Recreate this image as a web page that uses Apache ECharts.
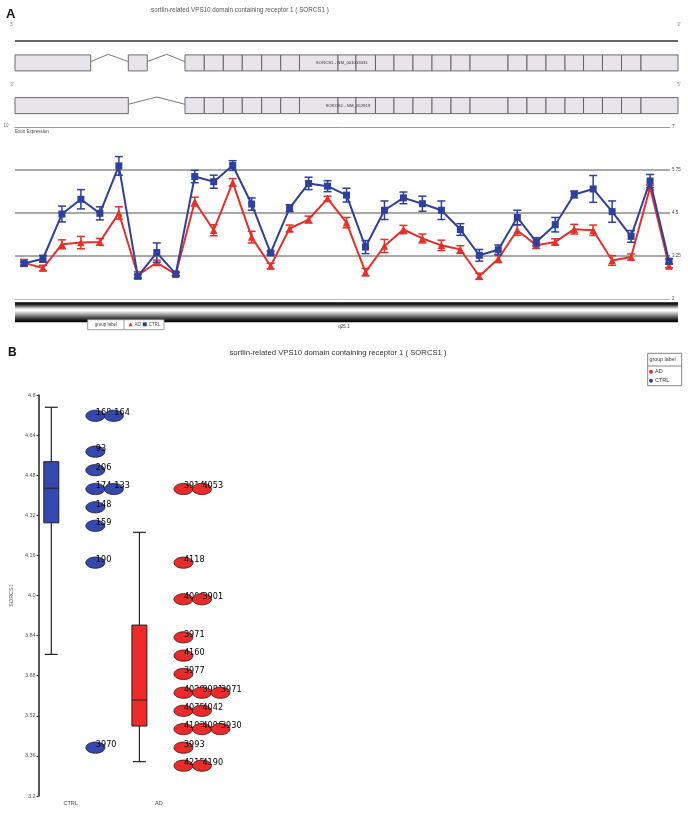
<!DOCTYPE html>
<html><head><meta charset="utf-8">
<script src="https://cdn.jsdelivr.net/npm/echarts@6/dist/echarts.min.js"></script>
<style>html,body{margin:0;padding:0;background:#fff}#c{width:688px;height:813px}</style>
</head><body><div id="c"></div>
<script>
// ================= DATA =================
// Panel A - exon expression (35 exons)
const exonNo = [1,2,3,4,5,6,7,8,9,10,11,12,13,14,15,16,17,18,19,20,21,22,23,24,25,26,27,28,29,30,31,32,33,34,35];
const ctrlMean = [3.03,3.17,4.47,4.90,4.49,5.87,2.66,3.35,2.73,5.56,5.41,5.88,4.76,3.34,4.64,5.36,5.28,5.02,3.51,4.58,4.94,4.77,4.58,4.02,3.27,3.43,4.37,3.66,4.16,5.04,5.20,4.54,3.82,5.43,3.10];
const ctrlErr  = [0.05,0.10,0.23,0.28,0.19,0.27,0.05,0.28,0.05,0.18,0.19,0.14,0.18,0.05,0.10,0.18,0.16,0.20,0.19,0.27,0.17,0.22,0.27,0.17,0.17,0.14,0.21,0.12,0.21,0.10,0.39,0.31,0.17,0.19,0.07];
const adMean   = [3.05,2.90,3.59,3.64,3.66,4.50,2.69,3.06,2.72,4.83,4.00,5.39,3.80,2.96,4.05,4.31,4.92,4.22,2.78,3.54,4.02,3.76,3.56,3.44,2.66,3.17,4.00,3.56,3.66,4.03,4.00,3.12,3.22,5.24,2.96];
const adErr    = [0.10,0.08,0.13,0.18,0.10,0.18,0.10,0.07,0.05,0.13,0.16,0.11,0.17,0.08,0.10,0.10,0.07,0.15,0.11,0.19,0.12,0.13,0.15,0.11,0.09,0.11,0.15,0.09,0.09,0.14,0.15,0.14,0.09,0.07,0.05];
const exprTicks = [2, 3.25, 4.5, 5.75, 7];

// Gene structure (relative position along gene, 0-100)
const blockEdges = [25.64,28.55,31.42,34.28,37.21,40.08,42.91,48.72,51.43,54.37,57.16,60.03,62.90,65.76,68.63,74.36,77.22,80.09,82.96,85.75,88.61,91.48,94.42,100];
const t1FirstExons = [[0,11.42],[17.09,19.95]];
const t2FirstExons = [[0,17.09]];
const t1Introns = [[11.42,14.07,17.09],[19.95,22.88,25.64]];
const t2Introns = [[17.09,21.37,25.64]];
const transcriptNames = ['SORCS1 - NM_001013031','SORCS1 - NM_052918'];
const transcriptLabelPos = [49.3, 50.2];

// Panel B - per-sample values
const groups = ['CTRL','AD'];
const ctrlIds  = ['168','164','93','206','174','133','148','159','190','3970'];
const ctrlVals = [4.717,4.717,4.574,4.500,4.425,4.425,4.352,4.278,4.131,3.393];
const adIds  = ['3914','4053','4118','4006','3901','3971','4160','3977','4029','3981','3971','4075','4042','4103','4096','3930','3993','4215','4190'];
const adVals = [4.425,4.425,4.131,3.985,3.985,3.833,3.760,3.687,3.612,3.612,3.612,3.540,3.540,3.467,3.467,3.467,3.393,3.321,3.321];
// box stats: [lower whisker, Q1, median, Q3, upper whisker]
const ctrlBox = [3.765,4.290,4.428,4.534,4.751];
const adBox   = [3.337,3.479,3.583,3.882,4.252];
const boxTicks = [3.2,3.36,3.52,3.68,3.84,4.0,4.16,4.32,4.48,4.64,4.8];

// ================= LAYOUT / STYLE =================
const FONT = 'Liberation Sans, Arial, sans-serif';
const NARROW = '"Liberation Sans Narrow", "Arial Narrow", "DejaVu Sans Condensed", "Liberation Sans", sans-serif';
const BLUE = '#2f3f9c', RED = '#e5302a';
const DOT_BLUE = '#3548ad', DOT_RED = '#ec2a2a';
const TRACK_Y = [0, 0.30, 0.885];
const BOX_OFF = -0.22, DOT_OFF = 0.28, DOT_STEP = 0.21;

const chart = echarts.init(document.getElementById('c'), null, {renderer:'canvas'});

// gene structure items
const exonData = [];
t1FirstExons.forEach(e => exonData.push([e[0], e[1], 1]));
t2FirstExons.forEach(e => exonData.push([e[0], e[1], 2]));
for (let t = 1; t <= 2; t++) for (let i = 0; i < blockEdges.length - 1; i++) exonData.push([blockEdges[i], blockEdges[i+1], t]);
const intronData = [];
t1Introns.forEach(e => intronData.push([e[0], e[1], e[2], 1]));
t2Introns.forEach(e => intronData.push([e[0], e[1], e[2], 2]));

function renderExon(params, api) {
  const y = TRACK_Y[api.value(2)];
  const p0 = api.coord([api.value(0), y]), p1 = api.coord([api.value(1), y]);
  return {type:'rect', shape:{x:p0[0], y:p0[1]-8, width:p1[0]-p0[0], height:16},
    style:{fill:'#e7e5ea', stroke:'#5c5c5c', lineWidth:0.9}};
}
function renderIntron(params, api) {
  const y = TRACK_Y[api.value(3)];
  const a = api.coord([api.value(0), y]), b = api.coord([api.value(1), y]), c = api.coord([api.value(2), y]);
  return {type:'polyline', shape:{points:[[a[0], a[1]-1.3],[b[0], b[1]-8.6],[c[0], c[1]-1.3]]},
    style:{stroke:'#555', lineWidth:0.8, fill:null}};
}
function renderGeneLine(params, api) {
  const a = api.coord([api.value(0), TRACK_Y[0]]), b = api.coord([api.value(1), TRACK_Y[0]]);
  return {type:'line', shape:{x1:a[0], y1:a[1], x2:b[0], y2:b[1]}, style:{stroke:'#333', lineWidth:1.6}};
}
function renderTxLabel(params, api) {
  const p = api.coord([api.value(0), TRACK_Y[api.value(1)]]);
  return {type:'text', x:p[0], y:p[1], style:{text:transcriptNames[params.dataIndex], fontSize:4.3, fontFamily:FONT, fill:'#333', align:'center', verticalAlign:'middle'}};
}

function errRenderer(color) {
  return function(params, api) {
    const x = api.value(0), m = api.value(1), e = api.value(2);
    const t = api.coord([x, m + e]), b = api.coord([x, m - e]);
    const hw = 4, st = {stroke:color, lineWidth:1.5};
    return {type:'group', children:[
      {type:'line', shape:{x1:t[0], y1:t[1], x2:b[0], y2:b[1]}, style:st},
      {type:'line', shape:{x1:t[0]-hw, y1:t[1], x2:t[0]+hw, y2:t[1]}, style:st},
      {type:'line', shape:{x1:b[0]-hw, y1:b[1], x2:b[0]+hw, y2:b[1]}, style:st}
    ]};
  };
}

const boxColors = [DOT_BLUE, DOT_RED];
function renderBox(params, api) {
  const x = api.value(0);
  const c = v => api.coord([x, v]);
  const lo = c(api.value(1)), q1 = c(api.value(2)), md = c(api.value(3)), q3 = c(api.value(4)), hi = c(api.value(5));
  const hw = 7.5, cw = 6.5, cx = lo[0];
  const ln = {stroke:'#222', lineWidth:1.2};
  return {type:'group', children:[
    {type:'line', shape:{x1:cx, y1:hi[1], x2:cx, y2:q3[1]}, style:ln},
    {type:'line', shape:{x1:cx, y1:q1[1], x2:cx, y2:lo[1]}, style:ln},
    {type:'line', shape:{x1:cx-cw, y1:hi[1], x2:cx+cw, y2:hi[1]}, style:ln},
    {type:'line', shape:{x1:cx-cw, y1:lo[1], x2:cx+cw, y2:lo[1]}, style:ln},
    {type:'rect', shape:{x:cx-hw, y:q3[1], width:2*hw, height:q1[1]-q3[1]}, style:{fill:boxColors[params.dataIndex], stroke:'#222', lineWidth:1}},
    {type:'line', shape:{x1:cx-hw, y1:md[1], x2:cx+hw, y2:md[1]}, style:{stroke:'#222', lineWidth:1}}
  ]};
}

function layoutDots(vals, ids, g) {
  const seen = {};
  return vals.map((v, i) => {
    const k = v.toFixed(3); const col = seen[k] || 0; seen[k] = col + 1;
    return {name: ids[i], value: [g + DOT_OFF + col * DOT_STEP, v]};
  });
}
// each dot drawn with its label, in data order, so later dots cover earlier labels
function dotRenderer(fill, border, ids) {
  return function(params, api) {
    const p = api.coord([api.value(0), api.value(1)]);
    return {type:'group', children:[
      {type:'ellipse', shape:{cx:p[0], cy:p[1], rx:9.5, ry:5.6}, style:{fill:fill, stroke:border, lineWidth:0.8}},
      {type:'text', x:p[0]+0.5, y:p[1]-3, style:{text:ids[params.dataIndex], fontSize:9, fontFamily:NARROW, fill:'#000', align:'left', verticalAlign:'middle'}}
    ]};
  };
}

const txt = (x, y, text, size, opts) => Object.assign({type:'text', x, y, z:2,
  style:Object.assign({text, fontSize:size, fontFamily:FONT, fill:'#555', align:'left', verticalAlign:'middle'}, (opts||{}))});

const option = {
  animation:false,
  backgroundColor:'#fff',
  grid:[
    {left:15, width:663, top:41, height:73},
    {left:15, width:655, top:127, height:172},
    {left:29, width:364, top:395, height:401}
  ],
  xAxis:[
    {gridIndex:0, type:'value', min:0, max:100, show:false},
    {gridIndex:1, type:'value', min:-0.474, max:34.05, position:'bottom',
      axisLine:{show:true, onZero:false, lineStyle:{color:'#bbb', width:1}}, axisTick:{show:false}, axisLabel:{show:false}, splitLine:{show:false}},
    {gridIndex:1, type:'value', min:-0.474, max:34.05, position:'top',
      axisLine:{show:true, onZero:false, lineStyle:{color:'#999', width:1}}, axisTick:{show:false}, axisLabel:{show:false}, splitLine:{show:false}},
    {gridIndex:2, type:'value', min:0.636, max:4.658,
      axisLine:{show:false}, axisTick:{show:false}, splitLine:{show:false},
      axisLabel:{customValues:[1,2], formatter:v => groups[Math.round(v)-1] || '', fontSize:5.5, fontFamily:FONT, color:'#444', margin:4}}
  ],
  yAxis:[
    {gridIndex:0, type:'value', min:0, max:1, inverse:true, show:false},
    {gridIndex:1, type:'value', min:exprTicks[0], max:exprTicks[exprTicks.length-1], interval:1.25, position:'right',
      axisLine:{show:false}, axisTick:{show:false},
      axisLabel:{fontSize:4.5, fontFamily:FONT, color:'#444', margin:2, formatter:v => String(+v.toFixed(2))},
      splitLine:{show:true, showMinLine:false, showMaxLine:false, lineStyle:{color:'#a9a9a9', width:2}}},
    {gridIndex:2, type:'value', min:3.2, max:4.8, interval:0.16,
      axisLine:{show:true, lineStyle:{color:'#222', width:1.5}},
      axisTick:{show:true, length:2, lineStyle:{color:'#222'}},
      splitLine:{show:false},
      axisLabel:{fontSize:5.5, fontFamily:FONT, color:'#555', margin:3, formatter:v => { let s = v.toFixed(2); return s.endsWith('0') ? s.slice(0,-1) : s; }},
      name:'SORCS1', nameLocation:'middle', nameRotate:90, nameGap:19, nameTextStyle:{fontSize:5.5, fontFamily:FONT, color:'#555'}}
  ],
  legend:[
    {data:[{name:'AD', icon:'triangle'},{name:'CTRL', icon:'rect'}], left:128.5, top:321.8, padding:0,
      itemWidth:4, itemHeight:4, itemGap:2, selectedMode:false, textStyle:{fontSize:4.5, fontFamily:FONT, color:'#444', padding:[0,0,0,-3]}},
    {data:[{name:'AD', icon:'circle'},{name:'CTRL', icon:'circle'}], left:649, top:368.5, orient:'vertical', padding:0,
      itemWidth:4, itemHeight:4, itemGap:2.5, selectedMode:false, textStyle:{fontSize:5.5, lineHeight:6.5, fontFamily:FONT, color:'#333', padding:[0,0,0,-3]}}
  ],
  series:[
    {type:'custom', xAxisIndex:0, yAxisIndex:0, renderItem:renderGeneLine, data:[[0,100]], silent:true},
    {type:'custom', xAxisIndex:0, yAxisIndex:0, renderItem:renderIntron, data:intronData, silent:true},
    {type:'custom', xAxisIndex:0, yAxisIndex:0, renderItem:renderExon, data:exonData, silent:true},
    {type:'custom', xAxisIndex:0, yAxisIndex:0, renderItem:renderTxLabel, data:transcriptLabelPos.map((p,i)=>[p, i+1]), silent:true, z:5},

    {type:'custom', name:'AD err', xAxisIndex:1, yAxisIndex:1, renderItem:errRenderer(RED), data:adMean.map((m,i)=>[i, m, adErr[i]]), z:2},
    {type:'line', name:'AD', xAxisIndex:1, yAxisIndex:1, data:adMean.map((m,i)=>[i, m]), symbol:'triangle', symbolSize:7.5,
      itemStyle:{color:RED}, lineStyle:{color:RED, width:2}, z:3},
    {type:'custom', name:'CTRL err', xAxisIndex:1, yAxisIndex:1, renderItem:errRenderer(BLUE), data:ctrlMean.map((m,i)=>[i, m, ctrlErr[i]]), z:4},
    {type:'line', name:'CTRL', xAxisIndex:1, yAxisIndex:1, data:ctrlMean.map((m,i)=>[i, m]), symbol:'rect', symbolSize:7,
      itemStyle:{color:BLUE}, lineStyle:{color:BLUE, width:2}, z:5},

    {type:'custom', name:'box', xAxisIndex:3, yAxisIndex:2, renderItem:renderBox,
      data:[[1 + BOX_OFF].concat(ctrlBox), [2 + BOX_OFF].concat(adBox)], z:2},
    {type:'custom', name:'CTRL dots', xAxisIndex:3, yAxisIndex:2, data:layoutDots(ctrlVals, ctrlIds, 1),
      renderItem:dotRenderer(DOT_BLUE, '#1c1c2c', ctrlIds), itemStyle:{color:DOT_BLUE}, z:3},
    {type:'custom', name:'AD dots', xAxisIndex:3, yAxisIndex:2, data:layoutDots(adVals, adIds, 2),
      renderItem:dotRenderer(DOT_RED, '#2c1c1c', adIds), itemStyle:{color:DOT_RED}, z:3}
  ],
  graphic:[
    txt(6, 14.5, 'A', 13, {fontWeight:'bold', fill:'#111'}),
    txt(240, 10, 'sortlin-related VPS10 domain containing receptor 1 ( SORCS1 )', 6.3, {align:'center', fill:'#555'}),
    txt(12, 25, "5'", 4.5, {align:'center', fill:'#777'}),
    txt(679, 25, "3'", 4.5, {align:'center', fill:'#777'}),
    txt(12, 85, "3'", 4.5, {align:'center', fill:'#777'}),
    txt(679, 85, "5'", 4.5, {align:'center', fill:'#777'}),
    txt(6, 126, '10', 4.5, {align:'center', fill:'#666'}),
    txt(15, 131.5, 'Exon Expression', 4.5, {fill:'#444'}),
    {type:'rect', z:0, shape:{x:15, y:302.3, width:663, height:20},
      style:{fill:new echarts.graphic.LinearGradient(0,0,0,1,[
        {offset:0, color:'#000'},{offset:0.12, color:'#2a2a2a'},{offset:0.33, color:'#f4f4f4'},{offset:0.42, color:'#ffffff'},
        {offset:0.55, color:'#bdbdbd'},{offset:0.75, color:'#555'},{offset:0.9, color:'#151515'},{offset:1, color:'#000'}])}},
    {type:'rect', z:1, shape:{x:87.7, y:319.7, width:76.3, height:10}, style:{fill:'#fff', stroke:'#888', lineWidth:0.8}},
    {type:'line', z:1, shape:{x1:124, y1:319.7, x2:124, y2:329.7}, style:{stroke:'#888', lineWidth:0.8}},
    txt(105.8, 324.7, 'group label', 4.5, {align:'center', fill:'#444'}),
    txt(344, 326.5, 'q25.1', 4.5, {align:'center', fill:'#444'}),
    txt(8, 352.5, 'B', 12, {fontWeight:'bold', fill:'#111'}),
    txt(338, 353, 'sortlin-related VPS10 domain containing receptor 1 ( SORCS1 )', 7.7, {align:'center', fill:'#333'}),
    {type:'rect', z:1, shape:{x:647.7, y:353.3, width:34, height:32.4}, style:{fill:'#fff', stroke:'#666', lineWidth:0.8}},
    {type:'line', z:1, shape:{x1:647.7, y1:366, x2:681.7, y2:366}, style:{stroke:'#666', lineWidth:0.8}},
    txt(649.5, 359.8, 'group label', 5.3, {fill:'#333'})
  ]
};
chart.setOption(option);
</script>
</body></html>
